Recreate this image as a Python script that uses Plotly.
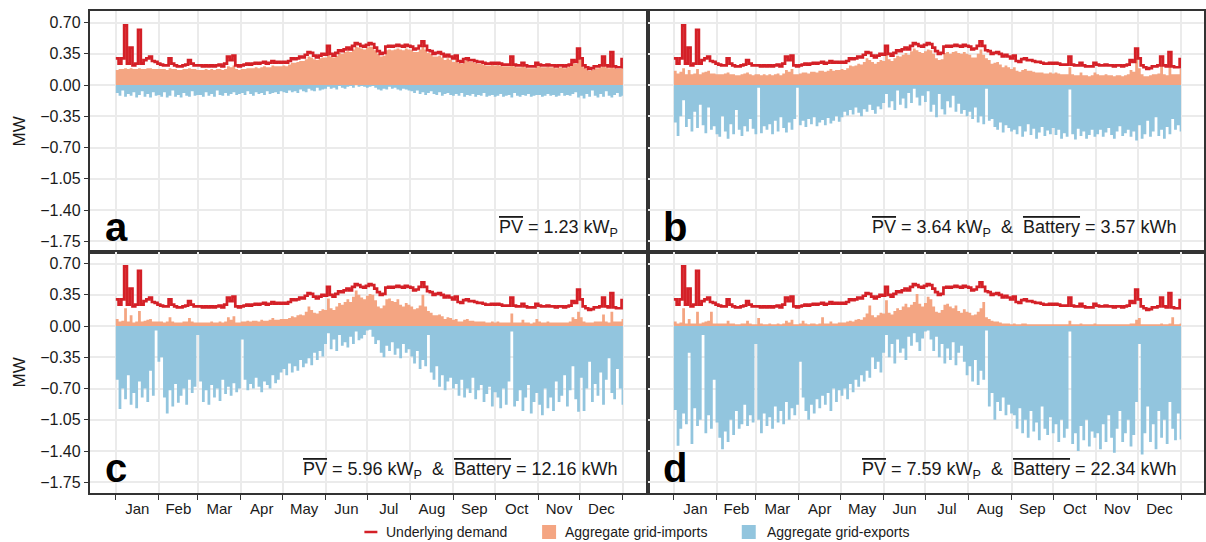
import pandas as pd
import plotly.graph_objects as go

# Aggregate feeder power (MW), one value every 2 days from 1 Jan 2019.
# Each line holds one month: Jan..Dec.
demand = [
    0.30, 0.24, 0.30, 0.67, 0.24, 0.42, 0.22, 0.24, 0.62, 0.24, 0.28, 0.30, 0.32, 0.27, 0.26, 0.24,
    0.23, 0.22, 0.22, 0.30, 0.24, 0.22, 0.21, 0.21, 0.22, 0.23, 0.28, 0.24, 0.22, 0.22,
    0.22, 0.21, 0.22, 0.21, 0.22, 0.21, 0.22, 0.23, 0.21, 0.24, 0.32, 0.28, 0.33, 0.22, 0.21,
    0.22, 0.23, 0.24, 0.23, 0.24, 0.25, 0.24, 0.25, 0.26, 0.24, 0.25, 0.27, 0.25, 0.26, 0.25,
    0.26, 0.25, 0.27, 0.30, 0.29, 0.30, 0.32, 0.31, 0.34, 0.37, 0.36, 0.33, 0.31, 0.33, 0.35, 0.34,
    0.44, 0.35, 0.33, 0.36, 0.39, 0.38, 0.40, 0.42, 0.40, 0.44, 0.47, 0.46, 0.44, 0.43, 0.45,
    0.47, 0.46, 0.42, 0.38, 0.35, 0.36, 0.43, 0.44, 0.43, 0.44, 0.45, 0.44, 0.43, 0.45, 0.44,
    0.43, 0.40, 0.41, 0.44, 0.49, 0.44, 0.39, 0.38, 0.35, 0.36, 0.37, 0.35, 0.32, 0.34, 0.32, 0.30,
    0.33, 0.27, 0.26, 0.29, 0.30, 0.28, 0.28, 0.27, 0.26, 0.26, 0.25, 0.24, 0.24, 0.25, 0.24,
    0.25, 0.24, 0.23, 0.23, 0.23, 0.32, 0.23, 0.22, 0.22, 0.25, 0.22, 0.21, 0.21, 0.21, 0.25,
    0.23, 0.22, 0.22, 0.23, 0.22, 0.22, 0.21, 0.22, 0.22, 0.21, 0.22, 0.23, 0.28, 0.26, 0.41,
    0.30, 0.22, 0.20, 0.18, 0.19, 0.21, 0.21, 0.22, 0.32, 0.22, 0.21, 0.37, 0.21, 0.20, 0.20, 0.29,
]

imports_a = [
    .17, .18, .18, .19, .18, .19, .18, .18, .19, .18, .18, .19, .19, .18, .18, .18,
    .18, .18, .17, .19, .18, .18, .17, .17, .18, .18, .19, .18, .18, .17,
    .17, .17, .18, .17, .18, .17, .18, .18, .17, .18, .21, .20, .22, .18, .17,
    .18, .18, .19, .19, .19, .20, .19, .20, .21, .20, .20, .22, .21, .21, .21,
    .22, .21, .23, .25, .25, .26, .27, .27, .29, .32, .31, .29, .28, .30, .31, .31,
    .38, .32, .31, .33, .36, .35, .37, .38, .37, .40, .43, .42, .41, .40, .42,
    .43, .43, .39, .35, .32, .33, .39, .40, .39, .40, .41, .40, .39, .41, .40,
    .39, .37, .37, .40, .44, .40, .36, .35, .32, .32, .33, .31, .28, .30, .28, .26,
    .31, .25, .24, .27, .28, .26, .26, .25, .24, .24, .23, .22, .22, .23, .22,
    .23, .22, .21, .21, .21, .29, .21, .20, .20, .23, .20, .19, .19, .19, .23,
    .21, .20, .20, .21, .20, .20, .19, .20, .20, .19, .20, .21, .26, .24, .38,
    .28, .20, .18, .16, .17, .19, .19, .20, .30, .20, .19, .34, .19, .18, .18, .26,
]

exports_a = [
    -.09, -.12, -.06, -.13, -.10, -.12, -.08, -.14, -.11, -.07, -.13, -.10, -.14, -.08, -.12, -.11,
    -.13, -.08, -.14, -.12, -.06, -.13, -.11, -.14, -.09, -.12, -.13, -.07, -.12, -.11,
    -.11, -.13, -.08, -.12, -.10, -.13, -.06, -.11, -.12, -.09, -.12, -.10, -.08, -.11, -.10,
    -.09, -.11, -.07, -.10, -.12, -.08, -.10, -.09, -.11, -.07, -.10, -.09, -.08, -.10, -.07,
    -.08, -.09, -.06, -.08, -.07, -.09, -.05, -.07, -.08, -.04, -.06, -.07, -.03, -.06, -.05, -.04,
    -.02, -.04, -.03, -.05, -.01, -.03, -.04, -.02, -.01, -.03, 0.0, -.02, -.01, -.02, -.03,
    -.02, -.01, -.03, -.05, -.06, -.04, -.05, -.02, -.04, -.03, -.05, -.06, -.04, -.05, -.06,
    -.07, -.09, -.06, -.10, -.08, -.11, -.09, -.07, -.10, -.11, -.08, -.12, -.10, -.09, -.11, -.12,
    -.10, -.12, -.09, -.13, -.11, -.12, -.10, -.13, -.11, -.12, -.09, -.13, -.12, -.11, -.13,
    -.12, -.10, -.13, -.12, -.11, -.14, -.09, -.12, -.13, -.11, -.12, -.10, -.13, -.12, -.11,
    -.11, -.13, -.12, -.10, -.12, -.11, -.13, -.12, -.09, -.12, -.11, -.12, -.10, -.08, -.14,
    -.12, -.15, -.10, -.13, -.06, -.12, -.14, -.10, -.13, -.07, -.12, -.14, -.11, -.09, -.13, -.12,
]

imports_b = [
    .16, .13, .15, .19, .12, .17, .12, .13, .18, .12, .14, .15, .16, .13, .13, .12,
    .12, .12, .13, .14, .12, .12, .11, .11, .12, .13, .14, .12, .11, .12,
    .12, .11, .12, .11, .12, .11, .12, .13, .11, .13, .17, .15, .18, .12, .12,
    .13, .14, .14, .13, .15, .15, .14, .16, .16, .15, .16, .18, .16, .17, .17,
    .18, .17, .19, .22, .21, .22, .24, .23, .26, .30, .28, .26, .24, .26, .28, .27,
    .36, .29, .27, .30, .33, .32, .34, .36, .34, .38, .41, .39, .37, .36, .38,
    .40, .39, .35, .30, .28, .29, .36, .37, .35, .37, .38, .36, .35, .37, .35,
    .34, .31, .31, .35, .40, .34, .30, .28, .24, .25, .26, .23, .20, .22, .20, .18,
    .20, .16, .15, .17, .18, .16, .16, .15, .14, .14, .14, .13, .13, .14, .13,
    .14, .13, .12, .12, .12, .20, .12, .11, .11, .14, .11, .11, .10, .11, .14,
    .12, .11, .11, .12, .11, .11, .10, .11, .11, .10, .11, .12, .17, .15, .30,
    .19, .12, .10, .10, .11, .12, .12, .13, .22, .12, .11, .27, .12, .12, .12, .18,
]

exports_b = [
    -.42, -.57, -.35, -.17, -.47, -.38, -.52, -.30, -.48, -.22, -.45, -.54, -.25, -.50, -.46, -.55,
    -.58, -.35, -.52, -.60, -.44, -.55, -.28, -.50, -.57, -.46, -.52, -.38, -.49, -.55,
    -.03, -.54, -.46, -.50, -.44, -.55, -.40, -.52, -.36, -.48, -.53, -.42, -.50, -.38, -.03,
    -.45, -.40, -.47, -.38, -.44, -.36, -.46, -.42, -.39, -.45, -.37, -.43, -.40, -.35, -.41,
    -.36, -.30, -.34, -.28, -.33, -.25, -.31, -.35, -.27, -.30, -.22, -.28, -.32, -.24, -.27, -.20,
    -.10, -.25, -.18, -.28, -.06, -.22, -.15, -.26, -.09, -.20, -.04, -.14, -.23, -.12, -.19,
    -.07, -.30, -.22, -.36, -.10, -.27, -.33, -.18, -.25, -.12, -.30, -.21, -.32, -.28, -.35,
    -.30, -.38, -.25, -.42, -.35, -.44, -.04, -.40, -.38, -.47, -.50, -.42, -.53, -.45, -.48, -.52,
    -.50, -.55, -.46, -.58, -.52, -.44, -.56, -.49, -.60, -.53, -.47, -.57, -.51, -.55, -.48,
    -.56, -.50, -.60, -.54, -.58, -.05, -.55, -.61, -.49, -.57, -.52, -.60, -.56, -.50, -.58,
    -.55, -.50, -.58, -.53, -.48, -.56, -.60, -.52, -.46, -.57, -.54, -.50, -.58, -.52, -.62,
    -.45, -.60, -.55, -.40, -.58, -.52, -.36, -.57, -.50, -.60, -.47, -.55, -.38, -.50, -.45, -.52,
]

imports_c = [
    .08, .05, .06, .20, .05, .12, .04, .05, .17, .05, .06, .07, .08, .05, .05, .05,
    .05, .04, .05, .10, .05, .04, .04, .04, .05, .05, .09, .05, .04, .04,
    .04, .04, .04, .04, .05, .04, .04, .05, .04, .05, .10, .07, .11, .04, .04,
    .05, .05, .06, .05, .06, .06, .05, .07, .06, .06, .07, .09, .07, .07, .08,
    .08, .08, .09, .11, .10, .12, .13, .12, .16, .22, .18, .15, .14, .17, .19, .18,
    .31, .20, .18, .22, .26, .24, .27, .30, .27, .33, .40, .35, .32, .30, .34,
    .36, .35, .29, .22, .20, .23, .30, .31, .28, .27, .30, .24, .22, .26, .24,
    .22, .19, .20, .23, .35, .22, .17, .15, .12, .12, .13, .11, .08, .10, .09, .07,
    .08, .05, .05, .07, .08, .06, .06, .05, .05, .05, .05, .04, .04, .05, .04,
    .05, .04, .04, .04, .04, .14, .04, .04, .04, .07, .04, .04, .03, .04, .08,
    .05, .04, .04, .05, .04, .04, .04, .04, .04, .04, .04, .05, .10, .08, .16,
    .10, .05, .04, .04, .04, .05, .05, .05, .13, .05, .04, .16, .05, .05, .05, .08,
]

exports_c = [
    -.60, -.93, -.70, -.82, -.55, -.88, -.75, -.92, -.62, -.80, -.70, -.85, -.50, -.78, -.05, -.40,
    -.35, -.80, -.98, -.72, -.90, -.65, -.86, -.78, -.70, -.88, -.60, -.75, -.68, -.10,
    -.62, -.85, -.72, -.88, -.66, -.80, -.70, -.84, -.60, -.76, -.68, -.78, -.64, -.74, -.70,
    -.15, -.60, -.72, -.65, -.70, -.58, -.68, -.74, -.62, -.66, -.70, -.55, -.64, -.60, -.52,
    -.48, -.55, -.42, -.52, -.45, -.50, -.38, -.46, -.42, -.36, -.44, -.30, -.38, -.28, -.34, -.20,
    -.08, -.26, -.15, -.28, -.10, -.22, -.18, -.24, -.12, -.20, -.06, -.16, -.14, -.10, -.05,
    -.04, -.12, -.20, -.16, -.30, -.35, -.22, -.28, -.18, -.32, -.25, -.36, -.20, -.30, -.26,
    -.34, -.42, -.28, -.48, -.38, -.45, -.10, -.52, -.60, -.45, -.68, -.55, -.72, -.62, -.58, -.70,
    -.65, -.78, -.60, -.80, -.70, -.75, -.58, -.82, -.72, -.66, -.85, -.76, -.68, -.90, -.74,
    -.80, -.92, -.70, -.88, -.62, -.06, -.90, -.84, -.72, -.95, -.80, -.66, -.98, -.85, -.75,
    -.88, -1.00, -.70, -.92, -.80, -.95, -.62, -.85, -.78, -.55, -.90, -.72, -.45, -.82, -.96,
    -.58, -.95, -.70, -.40, -.85, -.65, -.78, -.52, -.88, -.60, -.36, -.75, -.82, -.48, -.70, -.88,
]

imports_d = [
    .05, .03, .04, .20, .03, .08, .03, .03, .16, .03, .04, .05, .06, .16, .03, .03,
    .03, .03, .03, .06, .03, .03, .02, .02, .03, .03, .06, .03, .02, .02,
    .09, .03, .02, .02, .03, .02, .02, .03, .02, .03, .06, .04, .07, .02, .02,
    .03, .06, .03, .02, .03, .03, .02, .03, .10, .03, .03, .05, .03, .03, .04,
    .04, .04, .05, .06, .05, .07, .08, .07, .10, .14, .23, .12, .10, .12, .15, .14,
    .29, .15, .13, .17, .20, .18, .22, .25, .21, .24, .27, .36, .25, .22, .26,
    .33, .30, .22, .16, .15, .18, .24, .25, .22, .20, .23, .17, .15, .19, .16,
    .15, .12, .13, .16, .20, .27, .10, .08, .06, .05, .05, .04, .03, .03, .03, .02,
    .03, .02, .02, .03, .03, .02, .02, .02, .02, .02, .02, .02, .02, .02, .02,
    .02, .02, .02, .02, .02, .06, .02, .02, .02, .03, .02, .02, .02, .02, .03,
    .02, .02, .02, .02, .02, .02, .02, .02, .02, .02, .02, .02, .03, .03, .07,
    .09, .02, .02, .02, .02, .02, .02, .02, .03, .02, .02, .03, .10, .02, .02, .03,
]

exports_d = [
    -.94, -1.34, -1.15, -.98, -1.10, -.30, -1.32, -.92, -1.12, -1.05, -.10, -1.20, -1.00, -1.15, -.60, -1.08,
    -1.25, -1.38, -1.18, -1.30, -1.05, -1.22, -.95, -1.15, -1.10, -.88, -1.12, -1.00, -1.08, -.20,
    -1.05, -1.20, -.98, -1.12, -1.02, -1.15, -.90, -1.08, -.95, -1.10, -.85, -1.05, -.92, -1.00, -.88,
    -.40, -.80, -.95, -1.05, -.88, -.98, -.82, -.92, -.78, -.88, -.75, -.95, -.70, -.85, -.72,
    -.78, -.70, -.82, -.65, -.74, -.60, -.68, -.55, -.62, -.50, -.58, -.35, -.48, -.40, -.52, -.30,
    -.10, -.35, -.20, -.42, -.15, -.30, -.25, -.38, -.12, -.22, -.08, -.18, -.28, -.14, -.06,
    -.05, -.15, -.28, -.12, -.35, -.20, -.42, -.25, -.38, -.18, -.44, -.30, -.22, -.40, -.55,
    -.45, -.62, -.38, -.66, -.50, -.60, -.05, -.90, -.75, -1.05, -.85, -.95, -.80, -1.00, -.88, -.98,
    -1.00, -1.15, -.92, -1.20, -1.05, -1.25, -.95, -1.18, -1.08, -1.28, -.90, -1.15, -1.22, -1.02, -1.20,
    -1.10, -1.30, -1.05, -1.25, -1.15, -.06, -1.32, -1.20, -1.40, -1.12, -1.28, -1.05, -1.35, -1.18, -1.25,
    -1.20, -1.38, -1.10, -1.30, -1.00, -1.25, -1.42, -1.15, -.95, -1.30, -1.20, -1.05, -1.35, -1.22, -.85,
    -.20, -1.44, -1.20, -.90, -1.30, -1.10, -1.38, -.95, -1.25, -1.05, -1.32, -.85, -1.15, -1.28, -.98, -1.27,
]

month_labels = ["Jan", "Feb", "Mar", "Apr", "May", "Jun",
                "Jul", "Aug", "Sep", "Oct", "Nov", "Dec"]
y_ticks = [0.70, 0.35, 0.00, -0.35, -0.70, -1.05, -1.40, -1.75]
y_tick_text = ["0.70", "0.35", "0.00", "\u22120.35", "\u22120.70",
               "\u22121.05", "\u22121.40", "\u22121.75"]

panel_letters = ["a", "b", "c", "d"]
pv_sizes = ["1.23", "3.64", "5.96", "7.59"]
battery_sizes = [None, "3.57", "12.16", "22.34"]
panel_imports = [imports_a, imports_b, imports_c, imports_d]
panel_exports = [exports_a, exports_b, exports_c, exports_d]

for series in [demand] + panel_imports + panel_exports:
    assert len(series) == 183

# ---- styling ----
RED = "#D42027"
ORANGE = "#F4A582"
BLUE = "#92C5DE"
GRID = "#EBEBEB"
BORDER = "#333333"
TEXT = "#1A1A1A"
FONT = "Liberation Sans"

W, H = 1206, 542


def fx(px):
    return px / W


def fy(py):
    return 1 - py / H


start = pd.Timestamp("2019-01-01")
year_end = pd.Timestamp("2020-01-01")
steps = list(pd.date_range(start, periods=183, freq="2D")) + [year_end]


def closed(values):
    # repeat the final value so the last 2-day step reaches 1 Jan 2020
    return list(values) + [values[-1]]


month_starts = list(pd.date_range(start, year_end, freq="MS"))
mid_months = [a + (b - a) / 2 for a, b in zip(month_starts[:-1], month_starts[1:])]

# panel frames in pixels: columns (left, right), rows (top, bottom)
col_px = [(90, 649), (649, 1206)]
row_px = [(11, 252), (252, 493)]
px_per_day = 508 / 365
lead_days = 26 / px_per_day
y_range = [-1.87, 0.83]

fig = go.Figure()
layout = {}
annotations = []

for i in range(4):
    row, col = divmod(i, 2)
    sfx = "" if i == 0 else str(i + 1)
    xa, ya = "x" + sfx, "y" + sfx
    left, right = col_px[col]
    top, bottom = row_px[row]

    fig.add_trace(go.Scatter(
        x=steps, y=closed(panel_exports[i]), xaxis=xa, yaxis=ya,
        mode="lines", line=dict(width=0, shape="hv", color=BLUE),
        fill="tozeroy", fillcolor=BLUE, hoverinfo="skip", showlegend=False))
    fig.add_trace(go.Scatter(
        x=steps, y=closed(panel_imports[i]), xaxis=xa, yaxis=ya,
        mode="lines", line=dict(width=0, shape="hv", color=ORANGE),
        fill="tozeroy", fillcolor=ORANGE, hoverinfo="skip", showlegend=False))
    fig.add_trace(go.Scatter(
        x=steps, y=closed(demand), xaxis=xa, yaxis=ya,
        mode="lines", line=dict(width=2.7, shape="hv", color=RED),
        hoverinfo="skip", showlegend=False))

    r0 = start - pd.Timedelta(days=lead_days)
    r1 = r0 + pd.Timedelta(days=(right - left) / px_per_day)
    bottom_row = row == 1
    layout["xaxis" + sfx] = dict(
        type="date", domain=[fx(left), fx(right)], range=[r0, r1], anchor=ya,
        tickmode="array", tickvals=mid_months, ticktext=month_labels,
        showticklabels=bottom_row,
        ticks="outside" if bottom_row else "", ticklen=1, tickcolor="rgba(0,0,0,0)",
        tickfont=dict(family=FONT, size=15, color=TEXT),
        showgrid=False, zeroline=False,
        showline=True, mirror=True, linecolor=BORDER, linewidth=2,
        minor=dict(tickmode="array", tickvals=month_starts, showgrid=True,
                   gridcolor=GRID, gridwidth=1.6,
                   ticks="outside" if bottom_row else "", ticklen=5,
                   tickwidth=1.3, tickcolor=BORDER),
    )
    left_col = col == 0
    layout["yaxis" + sfx] = dict(
        domain=[fy(bottom), fy(top)], range=y_range, anchor=xa,
        tickmode="array", tickvals=y_ticks, ticktext=y_tick_text,
        showticklabels=left_col,
        ticks="outside" if left_col else "", ticklen=4, tickwidth=1.3, tickcolor=BORDER,
        tickfont=dict(family=FONT, size=16, color=TEXT),
        showgrid=True, gridcolor=GRID, gridwidth=1.6, zeroline=False,
        showline=True, mirror=True, linecolor=BORDER, linewidth=2,
    )

    # panel letter
    annotations.append(dict(
        text="<b>%s</b>" % panel_letters[i], xref="paper", yref="paper",
        x=fx(left + 13), y=fy(bottom - 1), xanchor="left", yanchor="bottom",
        showarrow=False, font=dict(family=FONT, size=40, color="black")))

    # installed capacity note
    note = '<span style="text-decoration:overline">PV</span> = %s kW<sub>P</sub>' % pv_sizes[i]
    if battery_sizes[i] is not None:
        note += ('&nbsp; &amp; &nbsp;<span style="text-decoration:overline">Battery</span>'
                 ' = %s kWh' % battery_sizes[i])
    annotations.append(dict(
        text=note, xref="paper", yref="paper",
        x=fx(left + (621 - 90) if col == 0 else 1181), y=fy(top + 218),
        xanchor="right", yanchor="middle", showarrow=False,
        font=dict(family=FONT, size=18, color=TEXT)))

# y-axis titles
for top, bottom in row_px:
    annotations.append(dict(
        text="MW", xref="paper", yref="paper", x=fx(20), y=fy((top + bottom) / 2),
        xanchor="center", yanchor="middle", textangle=-90, showarrow=False,
        font=dict(family=FONT, size=17, color=TEXT)))

# legend
legend_y = 532
shapes = [
    dict(type="line", xref="paper", yref="paper", x0=fx(365), x1=fx(378),
         y0=fy(legend_y), y1=fy(legend_y), line=dict(color=RED, width=2.5)),
    dict(type="rect", xref="paper", yref="paper", x0=fx(543), x1=fx(557),
         y0=fy(legend_y + 7), y1=fy(legend_y - 7), fillcolor=ORANGE, line=dict(width=0)),
    dict(type="rect", xref="paper", yref="paper", x0=fx(743), x1=fx(757),
         y0=fy(legend_y + 7), y1=fy(legend_y - 7), fillcolor=BLUE, line=dict(width=0)),
]
for label, x_left in [("Underlying demand", 385), ("Aggregate grid-imports", 564),
                      ("Aggregate grid-exports", 766)]:
    annotations.append(dict(
        text=label, xref="paper", yref="paper", x=fx(x_left), y=fy(legend_y),
        xanchor="left", yanchor="middle", showarrow=False,
        font=dict(family=FONT, size=14, color=TEXT)))

fig.update_layout(
    width=W, height=H, margin=dict(l=0, r=0, t=0, b=0),
    paper_bgcolor="white", plot_bgcolor="white",
    showlegend=False, annotations=annotations, shapes=shapes,
    **layout,
)

fig.write_html("out.html")
